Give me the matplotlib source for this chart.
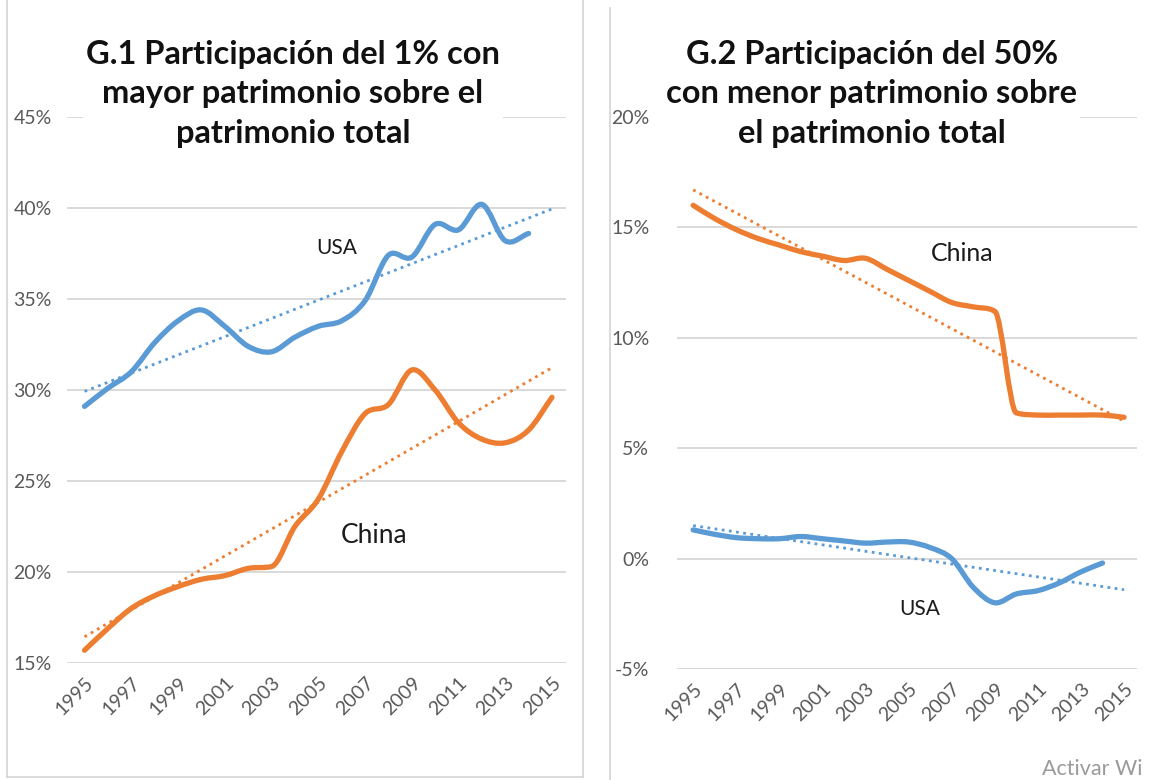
import numpy as np
import matplotlib.pyplot as plt
from matplotlib.path import Path
from matplotlib.patches import PathPatch
from matplotlib.lines import Line2D

plt.rcParams['font.family'] = ['Lato', 'DejaVu Sans']

# data (percent)
years = list(range(1995, 2016))
year_ticks = list(range(1995, 2016, 2))

usa_top1 = [29.1, 30.1, 31.0, 32.6, 33.8, 34.4, 33.5, 32.4, 32.1, 32.9,
            33.5, 33.8, 34.9, 37.4, 37.3, 39.1, 38.8, 40.2, 38.2, 38.6]  # to 2014
china_top1 = [15.7, 16.9, 18.0, 18.7, 19.2, 19.6, 19.8, 20.2, 20.3, 22.5,
              24.0, 26.6, 28.7, 29.2, 31.1, 30.0, 28.2, 27.3, 27.1, 27.8, 29.6]

china_bottom50 = [16.0, 15.4, 14.9, 14.5, 14.2, 13.9, 13.7, 13.5, 13.6, 13.1,
                  12.6, 12.1, 11.6, 11.4, 11.2, 6.6, 6.5, 6.5, 6.5, 6.5, 6.4]
usa_bottom50 = [1.3, 1.1, 0.95, 0.9, 0.9, 1.0, 0.9, 0.8, 0.7, 0.75,
                0.75, 0.5, 0.0, -1.3, -2.0, -1.6, -1.45, -1.1, -0.6, -0.2]  # to 2014

BLUE = '#5B9BD5'
ORANGE = '#ED7D31'
GRID = '#D9D9D9'
TICK = '#595959'
W, H = 1159, 780


def smooth_line(ax, x, y, color):
    # excel-style smoothed line through the data points (cubic bezier segments),
    # tangents limited where the series is monotone so big jumps don't overshoot
    x = np.asarray(x, float)
    y = np.asarray(y, float)
    n = len(x)
    d = np.diff(y)
    m = np.empty(n)
    m[0], m[-1] = d[0], d[-1]
    for i in range(1, n - 1):
        m[i] = (y[i + 1] - y[i - 1]) / 2
        if d[i - 1] * d[i] > 0:
            lim = 3 * min(abs(d[i - 1]), abs(d[i]))
            m[i] = np.sign(m[i]) * min(abs(m[i]), lim)
    verts = [(x[0], y[0])]
    codes = [Path.MOVETO]
    for i in range(n - 1):
        c1 = (x[i] + 1 / 3, y[i] + m[i] / 3)
        c2 = (x[i + 1] - 1 / 3, y[i + 1] - m[i + 1] / 3)
        verts += [c1, c2, (x[i + 1], y[i + 1])]
        codes += [Path.CURVE4] * 3
    patch = PathPatch(Path(verts, codes), fill=False, edgecolor=color, lw=3.8,
                      capstyle='round', joinstyle='round', zorder=3)
    ax.add_patch(patch)


def trend(ax, x, y, color):
    coef = np.polyfit(x, y, 1)
    xs = np.array([years[0], years[-1]])
    ax.plot(xs, np.polyval(coef, xs), color=color, lw=2.0, ls=(0, (1, 1.6)), zorder=2)


def px_box(x0, y0, x1, y1):
    return [x0 / W, 1 - y1 / H, (x1 - x0) / W, (y1 - y0) / H]


def style(ax, lo, hi, ypad):
    ax.set_ylim(lo, hi)
    ax.set_xlim(1994.25, 2015.6)
    ax.set_yticks(range(lo, hi + 1, 5))
    ax.set_yticklabels([f'{v}%' for v in range(lo, hi + 1, 5)])
    ax.set_xticks(year_ticks)
    ax.set_xticklabels([str(y) for y in year_ticks], rotation=45, ha='right',
                       rotation_mode='anchor')
    ax.tick_params(axis='both', length=0, labelcolor=TICK, labelsize=14)
    ax.tick_params(axis='y', pad=ypad)
    ax.tick_params(axis='x', pad=8)
    ax.grid(axis='y', color=GRID, lw=1.4)
    ax.set_axisbelow(True)
    for s in ax.spines.values():
        s.set_visible(False)


fig = plt.figure(figsize=(W / 100, H / 100), dpi=100)

# chart frames
fig.add_artist(Line2D([7 / W, 7 / W], [1 - 777 / H, 1], color='#D4D4D4', lw=1.2))
fig.add_artist(Line2D([7 / W, 583 / W], [1 - 777 / H, 1 - 777 / H], color='#D4D4D4', lw=1.2))
fig.add_artist(Line2D([583 / W, 583 / W], [1 - 777 / H, 1], color='#D4D4D4', lw=1.2))
fig.add_artist(Line2D([610 / W, 610 / W], [0, 1 - 8 / H], color='#D4D4D4', lw=1.2))

# G.1
ax1 = fig.add_axes(px_box(67, 117, 566, 663))
style(ax1, 15, 45, 11)
trend(ax1, years[:len(usa_top1)], usa_top1, BLUE)
trend(ax1, years, china_top1, ORANGE)
smooth_line(ax1, years[:len(usa_top1)], usa_top1, BLUE)
smooth_line(ax1, years, china_top1, ORANGE)
ax1.text(2005.8, 37.8, 'USA', fontsize=15, ha='center', va='center', color='#1a1a1a')
ax1.text(2007.4, 22.0, 'China', fontsize=19, ha='center', va='center', color='#1a1a1a')
fig.text(293 / W, 1 - 94 / H,
         'G.1 Participación del 1% con\nmayor patrimonio sobre el\npatrimonio total',
         ha='center', va='center', fontsize=23.5, fontweight='bold', linespacing=1.45,
         color='#111111', bbox=dict(facecolor='white', edgecolor='none', pad=2))

# G.2
ax2 = fig.add_axes(px_box(677, 117, 1137, 669))
style(ax2, -5, 20, 20)
trend(ax2, years, china_bottom50, ORANGE)
trend(ax2, years[:len(usa_bottom50)], usa_bottom50, BLUE)
smooth_line(ax2, years, china_bottom50, ORANGE)
smooth_line(ax2, years[:len(usa_bottom50)], usa_bottom50, BLUE)
ax2.text(2007.5, 13.8, 'China', fontsize=18, ha='center', va='center', color='#1a1a1a')
ax2.text(2005.5, -2.3, 'USA', fontsize=15, ha='center', va='center', color='#1a1a1a')
fig.text(872 / W, 1 - 94 / H,
         'G.2 Participación del 50%\ncon menor patrimonio sobre\nel patrimonio total',
         ha='center', va='center', fontsize=23.5, fontweight='bold', linespacing=1.45,
         color='#111111', bbox=dict(facecolor='white', edgecolor='none', pad=2))

fig.text(1042 / W, 1 - 769 / H, 'Activar Wi', fontsize=15.5, color='#9A9A9A',
         ha='left', va='center')

fig.savefig('out.png', dpi=100)
